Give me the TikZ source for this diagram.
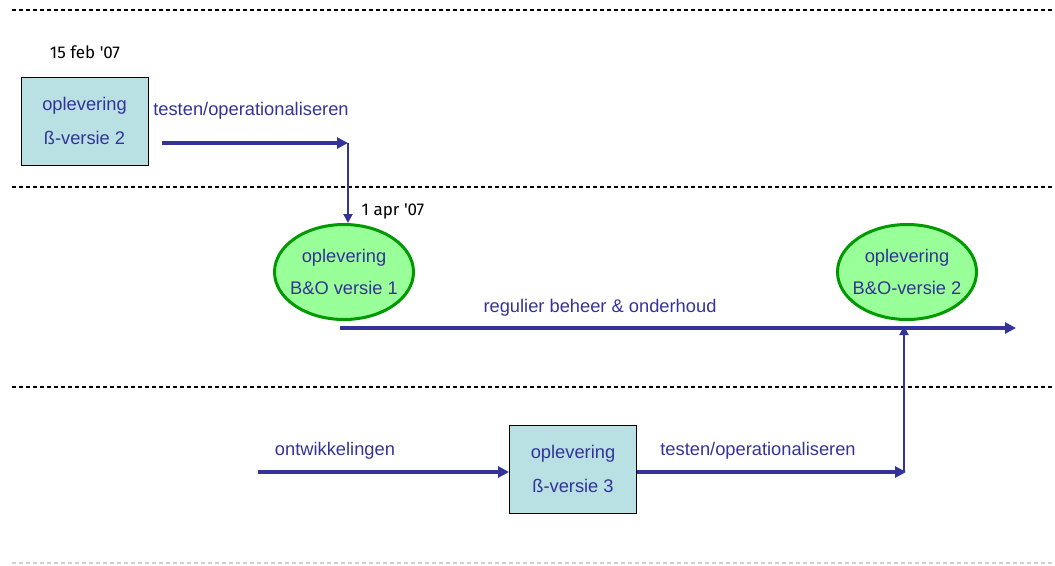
\documentclass[tikz,border=0pt]{standalone}
\usepackage{fontspec}
\setmainfont{Liberation Sans}
\newfontfamily\notefont{Fira Sans}
\usetikzlibrary{arrows.meta,shapes.geometric}
\definecolor{flow}{HTML}{333399}
\definecolor{boxfill}{HTML}{B9E0E3}
\definecolor{ovalfill}{HTML}{99FF99}
\definecolor{ovaledge}{HTML}{009900}
\tikzset{
  lane/.style={black, line width=1.3pt, dash pattern=on 4pt off 3pt},
  lastlane/.style={black!18, line width=1.3pt, dash pattern=on 4pt off 3pt},
  release/.style={draw=black, line width=0.9pt, fill=boxfill, minimum width=127pt, minimum height=88pt,
    inner sep=0pt, align=center, text=flow, font=\fontsize{18.3}{34}\selectfont},
  milestone/.style={ellipse, draw=ovaledge, line width=3pt, fill=ovalfill, minimum width=139pt,
    minimum height=95pt, inner xsep=-14pt, inner ysep=0pt, align=center, text=flow,
    font=\fontsize{18.3}{32}\selectfont},
  mainflow/.style={flow, line width=4pt, -{Triangle[length=11pt,width=11pt]}},
  handover/.style={flow, line width=2pt, -{Triangle[length=9pt,width=9pt]}},
  flowlabel/.style={text=flow, font=\fontsize{18.3}{20}\selectfont, inner sep=0pt},
  datelabel/.style={black, font=\notefont\fontsize{17}{19}\selectfont, inner sep=0pt}
}
\begin{document}
\begin{tikzpicture}[x=1pt, y=-1pt]
\useasboundingbox (0,0) rectangle (1055,565);

% lane separators
\draw[lane] (12,10) -- (1055,10);
\draw[lane] (12,187) -- (1055,187);
\draw[lane] (12,387) -- (1055,387);
\draw[lastlane] (12,563) -- (1055,563);

% releases and milestones
\node[release] (beta2) at (84.5,121) {oplevering\\ß-versie 2};
\node[release] (beta3) at (573,469) {oplevering\\ß-versie 3};
\node[milestone] (bo1) at (344,272) {oplevering\\B\&O versie 1};
\node[milestone] (bo2) at (907,272) {oplevering\\B\&O-versie 2};

% dates
\node[datelabel] (d1) at (85,52) {15 feb '07};
\node[datelabel] (d2) at (393,211) {1 apr '07};

% routing points
\coordinate (t1start) at (162,143);
\coordinate (t1end) at (348,143);
\coordinate (runstart) at (340,328);
\coordinate (runend) at (1016,328);
\coordinate (devstart) at (258,472);
\coordinate (t2end) at (906,472);
\coordinate (t2turn) at (904,472);

% testing of beta 2 into B&O version 1
\draw[mainflow] (t1start) -- (t1end);
\draw[handover] (t1end) -- (t1end |- bo1.north);
\node[flowlabel] (lt1) at (251,111) {testen/operationaliseren};

% regular maintenance
\draw[mainflow] (runstart) -- (runend);
\node[flowlabel] (lrun) at (600,308) {regulier beheer \& onderhoud};

% development towards beta 3 and B&O version 2
\draw[mainflow] (devstart) -- (devstart -| beta3.west);
\node[flowlabel] (ldev) at (335,451) {ontwikkelingen};
\draw[mainflow] (beta3.east |- t2end) -- (t2end);
\node[flowlabel] (lt2) at (758,451) {testen/operationaliseren};
\draw[handover] (t2turn) -- ([yshift=2pt]t2turn |- runend);
\end{tikzpicture}
\end{document}
